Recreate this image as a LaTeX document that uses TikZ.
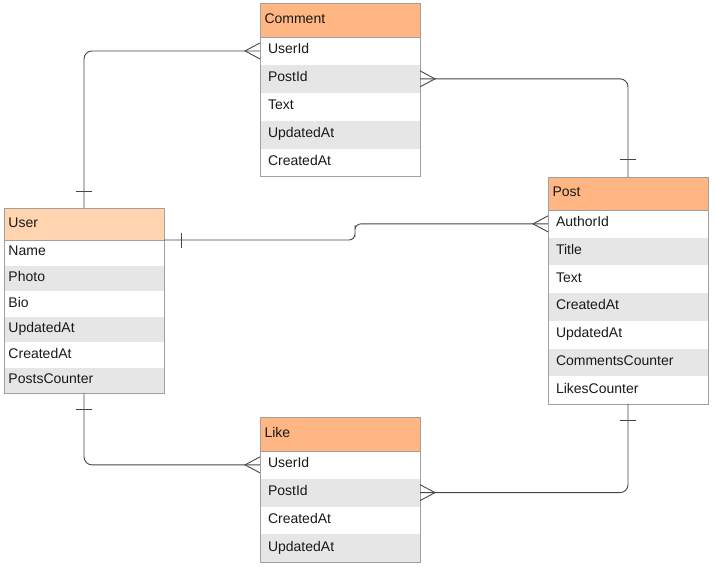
\documentclass[tikz,border=0pt]{standalone}
\usepackage{fontspec}
\setmainfont{Liberation Sans}
\usetikzlibrary{positioning}
\definecolor{boxc}{HTML}{A0A0A0}
\definecolor{rowc}{HTML}{E6E6E6}
\definecolor{hdrc}{HTML}{FFB682}
\definecolor{hdrl}{HTML}{FFD4AF}
\definecolor{linec}{HTML}{474747}
\newcommand\tblfont{\fontsize{14}{16}\selectfont}
\tikzset{
  tbl/.style={anchor=north west, minimum width=160pt, inner ysep=0pt, outer sep=0pt, text height=9.5pt, text depth=3.5pt, font=\tblfont, text=black!90},
  hdr/.style={tbl, draw=boxc, line width=0.8pt, fill=#1, inner xsep=4.5pt, text width=151pt, align=left},
  fld/.style={tbl, inner xsep=8pt, text width=144pt, align=left},
  ufld/.style={tbl, inner xsep=4.5pt, text width=151pt, align=left, minimum height=25.6pt},
  cfld/.style={fld, minimum height=27.9pt},
  pfld/.style={fld, minimum height=27.71pt},
  lfld/.style={fld, minimum height=27.75pt},
  shade/.style={fill=rowc},
  frame/.style={draw=boxc, line width=0.8pt},
  conn/.style={draw=linec, line width=0.9pt},
}
\begin{document}
\begin{tikzpicture}[x=1pt,y=-1pt]
\useasboundingbox (0,0) rectangle (715,566);

% User
\node[hdr=hdrl, minimum height=32pt] (uh) at (4,208) {User};
\node[ufld, below=0pt of uh] (u1) {Name};
\node[ufld, shade, below=0pt of u1] (u2) {Photo};
\node[ufld, below=0pt of u2] (u3) {Bio};
\node[ufld, shade, below=0pt of u3] (u4) {UpdatedAt};
\node[ufld, below=0pt of u4] (u5) {CreatedAt};
\node[ufld, shade, below=0pt of u5] (u6) {PostsCounter};
\draw[frame] (uh.north west) rectangle (u6.south east);
\draw[frame] (uh.south west) -- (uh.south east);

% Comment
\node[hdr=hdrc, minimum height=34pt] (ch) at (260,3) {Comment};
\node[cfld, below=0pt of ch] (c1) {UserId};
\node[cfld, shade, below=0pt of c1] (c2) {PostId};
\node[cfld, below=0pt of c2] (c3) {Text};
\node[cfld, shade, below=0pt of c3] (c4) {UpdatedAt};
\node[cfld, below=0pt of c4] (c5) {CreatedAt};
\draw[frame] (ch.north west) rectangle (c5.south east);
\draw[frame] (ch.south west) -- (ch.south east);

% Post
\node[hdr=hdrc, minimum height=33pt] (ph) at (548,177) {Post};
\node[pfld, below=0pt of ph] (p1) {AuthorId};
\node[pfld, shade, below=0pt of p1] (p2) {Title};
\node[pfld, below=0pt of p2] (p3) {Text};
\node[pfld, shade, below=0pt of p3] (p4) {CreatedAt};
\node[pfld, below=0pt of p4] (p5) {UpdatedAt};
\node[pfld, shade, below=0pt of p5] (p6) {CommentsCounter};
\node[pfld, below=0pt of p6] (p7) {LikesCounter};
\draw[frame] (ph.north west) rectangle (p7.south east);
\draw[frame] (ph.south west) -- (ph.south east);

% Like
\node[hdr=hdrc, minimum height=34pt] (lh) at (260,417) {Like};
\node[lfld, below=0pt of lh] (l1) {UserId};
\node[lfld, shade, below=0pt of l1] (l2) {PostId};
\node[lfld, below=0pt of l2] (l3) {CreatedAt};
\node[lfld, shade, below=0pt of l3] (l4) {UpdatedAt};
\draw[frame] (lh.north west) rectangle (l4.south east);
\draw[frame] (lh.south west) -- (lh.south east);

% User -- Comment
\draw[conn, rounded corners=8pt] (uh.north) |- (c1.west);
\draw[conn] ([xshift=-8pt,yshift=17pt]uh.north) -- ([xshift=8pt,yshift=17pt]uh.north);
\draw[conn] ([yshift=8pt]c1.west) -- ([xshift=-15pt]c1.west) -- ([yshift=-8pt]c1.west);

% Comment -- Post
\draw[conn, rounded corners=8pt] (c2.east) -| (ph.north);
\draw[conn] ([xshift=-8pt,yshift=18pt]ph.north) -- ([xshift=8pt,yshift=18pt]ph.north);
\draw[conn] ([yshift=8pt]c2.east) -- ([xshift=15pt]c2.east) -- ([yshift=-8pt]c2.east);

% User -- Post
\coordinate (jog) at (355,231);
\draw[conn, rounded corners=6pt] (uh.south east) -| (jog) |- (p1.west);
\draw[conn] ([xshift=17pt,yshift=7.5pt]uh.south east) -- ([xshift=17pt,yshift=-7.5pt]uh.south east);
\draw[conn] ([yshift=8pt]p1.west) -- ([xshift=-15pt]p1.west) -- ([yshift=-8pt]p1.west);

% User -- Like
\draw[conn, rounded corners=8pt] (u6.south) |- (l1.west);
\draw[conn] ([xshift=-8pt,yshift=-16pt]u6.south) -- ([xshift=8pt,yshift=-16pt]u6.south);
\draw[conn] ([yshift=8pt]l1.west) -- ([xshift=-15pt]l1.west) -- ([yshift=-8pt]l1.west);

% Like -- Post
\draw[conn, rounded corners=8pt] (l2.east) -| (p7.south);
\draw[conn] ([xshift=-8pt,yshift=-16pt]p7.south) -- ([xshift=8pt,yshift=-16pt]p7.south);
\draw[conn] ([yshift=8pt]l2.east) -- ([xshift=15pt]l2.east) -- ([yshift=-8pt]l2.east);
\end{tikzpicture}
\end{document}
